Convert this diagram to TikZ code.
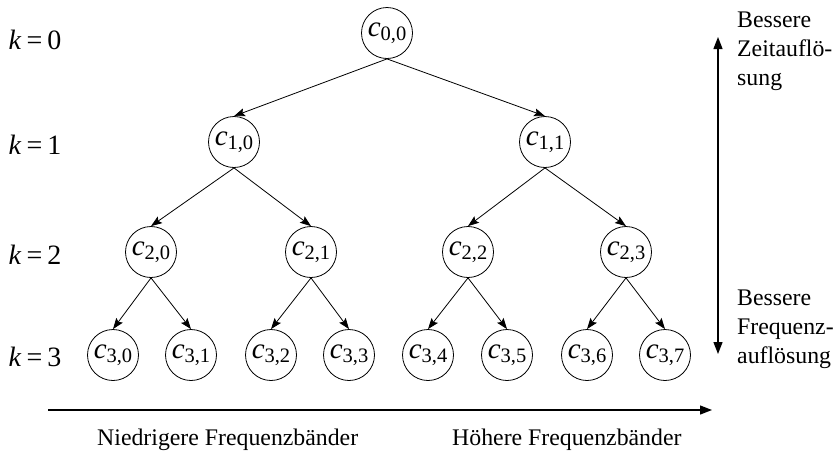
\documentclass[tikz,border=0pt]{standalone}
\usepackage{fontspec}
\setmainfont{Liberation Serif}
\usetikzlibrary{arrows.meta}

% coefficient label c_{i,j}
\newcommand\cf[2]{\textit{c}\raisebox{-4.5pt}{\fontsize{20.5}{20.5}\selectfont #1,#2}}
% level label k = n
\newcommand\lev[1]{\textit{k}\hspace{5pt}=\hspace{5pt}#1}

\begin{document}
\begin{tikzpicture}[x=1pt,y=-1pt,
  coef/.style={circle,draw,line width=0.8pt,minimum size=51pt,inner sep=0pt,
    font=\fontsize{29}{32}\selectfont},
  edge/.style={-{Stealth[length=11pt,width=8pt,inset=2pt]},line width=0.8pt},
  axis/.style={-{Triangle[length=12pt,width=9pt]},line width=1.3pt},
  lbl/.style={font=\fontsize{23.8}{29}\selectfont,inner sep=0pt},
  levlbl/.style={font=\fontsize{28}{30}\selectfont,inner sep=0pt},
]
\useasboundingbox (0,0) rectangle (836,451);

% tree of coefficients
\node[coef] (c00) at (387,33) {\cf{0}{0}};
\node[coef] (c10) at (234,142) {\cf{1}{0}};
\node[coef] (c11) at (545,142) {\cf{1}{1}};
\node[coef] (c20) at (151,252) {\cf{2}{0}};
\node[coef] (c21) at (311,252) {\cf{2}{1}};
\node[coef] (c22) at (468,252) {\cf{2}{2}};
\node[coef] (c23) at (626,252) {\cf{2}{3}};
\node[coef] (c30) at (113,355) {\cf{3}{0}};
\node[coef] (c31) at (191,355) {\cf{3}{1}};
\node[coef] (c32) at (271,355) {\cf{3}{2}};
\node[coef] (c33) at (349,355) {\cf{3}{3}};
\node[coef] (c34) at (428,355) {\cf{3}{4}};
\node[coef] (c35) at (507,355) {\cf{3}{5}};
\node[coef] (c36) at (587,355) {\cf{3}{6}};
\node[coef] (c37) at (665,355) {\cf{3}{7}};

\foreach \p/\a/\b in {c00/c10/c11, c10/c20/c21, c11/c22/c23,
    c20/c30/c31, c21/c32/c33, c22/c34/c35, c23/c36/c37} {
  \draw[edge] (\p.south) -- (\a.north);
  \draw[edge] (\p.south) -- (\b.north);
}

% level labels
\node[levlbl] (k0) at (35,40) {\lev{0}};
\node[levlbl] (k1) at (35,145) {\lev{1}};
\node[levlbl] (k2) at (35,255) {\lev{2}};
\node[levlbl] (k3) at (35,357) {\lev{3}};

% resolution axis
\coordinate (rtop) at (718,37);
\coordinate (rbot) at (718,354);
\draw[axis,{Triangle[length=12pt,width=9pt]}-{Triangle[length=12pt,width=9pt]}] (rtop) -- (rbot);
\node[lbl,anchor=base west] (t1) at (737,27) {Bessere};
\node[lbl,anchor=base west] (t2) at (737,56) {Zeitauflö-};
\node[lbl,anchor=base west] (t3) at (737,85) {sung};
\node[lbl,anchor=base west] (f1) at (737,305) {Bessere};
\node[lbl,anchor=base west] (f2) at (737,334) {Frequenz-};
\node[lbl,anchor=base west] (f3) at (737,363) {auflösung};

% frequency axis
\coordinate (fl) at (48,410);
\coordinate (fr) at (712,410);
\draw[axis] (fl) -- (fr);
\node[lbl,anchor=base west] (lo) at (97,445) {Niedrigere Frequenzbänder};
\node[lbl,anchor=base west] (hi) at (452,445) {Höhere Frequenzbänder};
\end{tikzpicture}
\end{document}
